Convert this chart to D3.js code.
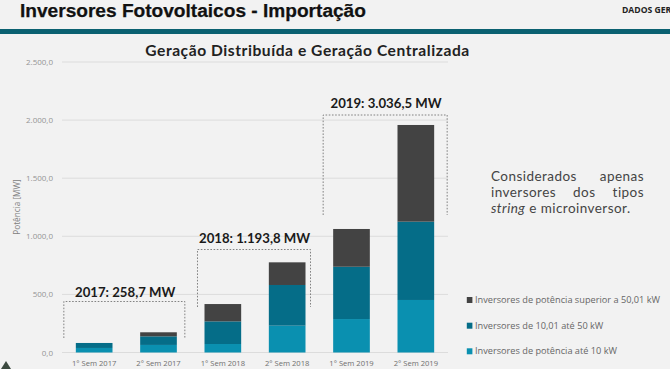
<!DOCTYPE html>
<html><head><meta charset="utf-8">
<script src="https://cdn.jsdelivr.net/npm/d3@7"></script>
<style>html,body{margin:0;padding:0;background:#f2f2f2}svg{display:block}</style>
</head><body><svg id="c" width="670" height="369"></svg>
<script>
const categories=["1° Sem 2017","2° Sem 2017","1° Sem 2018","2° Sem 2018","1° Sem 2019","2° Sem 2019"];
const upTo10=[39,65,73,231,288,452];
const from10to50=[43,74,195,350,450,674];
const above50=[0,35,149,195,325,832];
const tickValues=[0,500,1000,1500,2000,2500];
const legendLabels=["Inversores de potência superior a 50,01 kW","Inversores de 10,01 até 50 kW","Inversores de potência até 10 kW"];
const colors=["#0a90b0","#056d88","#434343"];
const yearLabels=["2017: 258,7 MW","2018: 1.193,8 MW","2019: 3.036,5 MW"];

const svg=d3.select("#c");
const GOTHIC="'Lato','Open Sans',sans-serif", BODY="'Open Sans',sans-serif";
const x=d3.scaleBand().domain(categories).range([62,448]).paddingInner(0.43).paddingOuter(0.215);
const y=d3.scaleLinear().domain([0,2500]).range([352.5,62]);

// header
svg.append("text").attr("x",20).attr("y",16.5).attr("font-family","'Liberation Sans',sans-serif").attr("font-weight",700).attr("font-size",19.1).attr("fill","#111").attr("stroke","#111").attr("stroke-width",0.25).text("Inversores Fotovoltaicos - Importação");
svg.append("text").attr("x",622).attr("y",13).attr("font-family",BODY).attr("font-weight",700).attr("font-size",8.6).attr("fill","#222").text("DADOS GERAIS");
svg.append("rect").attr("x",0).attr("y",29).attr("width",670).attr("height",5).attr("fill","#0b6171");
svg.append("text").attr("x",307.5).attr("y",56).attr("text-anchor","middle").attr("font-family",GOTHIC).attr("font-weight",700).attr("font-size",15.6).attr("letter-spacing",0.55).attr("fill","#222").text("Geração Distribuída e Geração Centralizada");

// axis
const yAxis=d3.axisLeft(y).tickValues(tickValues).tickSize(0).tickPadding(0).tickFormat(d=>d3.format(",.1f")(d).replace(/,/g,"#").replace(".",",").replace(/#/g,"."));
const gy=svg.append("g").attr("transform","translate(53,0)").call(yAxis);
gy.select(".domain").remove();
gy.selectAll("text").attr("font-family",BODY).attr("font-size",8).attr("fill","#949494");
svg.append("g").selectAll("line").data(tickValues).join("line").attr("x1",62).attr("x2",448).attr("y1",d=>y(d)).attr("y2",d=>y(d)).attr("stroke","#dcdcdc").attr("stroke-width",1);
svg.append("text").attr("transform","translate(20,207) rotate(-90)").attr("text-anchor","middle").attr("font-family",BODY).attr("font-size",8.2).attr("fill","#808080").text("Potência [MW]");

const xAxis=d3.axisBottom(x).tickSize(0).tickPadding(0);
const gx=svg.append("g").attr("transform","translate(0,362)").call(xAxis);
gx.select(".domain").remove();
gx.selectAll("text").attr("font-family",BODY).attr("font-size",7.6).attr("fill","#6f6f6f").attr("dy","0.55em");

// bars
const table=categories.map((c,i)=>({c,a:upTo10[i],b:from10to50[i],d:above50[i]}));
const stack=d3.stack().keys(["a","b","d"])(table);
svg.append("g").selectAll("g").data(stack).join("g").attr("fill",(d,i)=>colors[i])
 .selectAll("rect").data(d=>d.map(v=>({v,c:v.data.c}))).join("rect")
 .attr("x",d=>x(d.c)).attr("width",x.bandwidth()).attr("y",d=>y(d.v[1])).attr("height",d=>y(d.v[0])-y(d.v[1]));

// year brackets
const spans=[[0,1,-12,8,301.5,338,75,297],[2,3,-7,5,249.5,307,199,243],[4,5,-10,13,115,215,330.5,108]];
spans.forEach((s,i)=>{
  const x0=x(categories[s[0]])+s[2], x1=x(categories[s[1]])+x.bandwidth()+s[3];
  svg.append("path").attr("d",d3.line()([[x0,s[5]],[x0,s[4]],[x1,s[4]],[x1,s[5]]])).attr("fill","none").attr("stroke","#666").attr("stroke-width",0.8).attr("stroke-dasharray","1.6 1.6");
  svg.append("text").attr("x",s[6]).attr("y",s[7]).attr("font-family",GOTHIC).attr("font-weight",700).attr("font-size",13.2).attr("fill","#1a1a1a").text(yearLabels[i]);
});

// note
const note=svg.append("g").attr("font-family",GOTHIC).attr("font-size",13.5).attr("letter-spacing",0.45).attr("fill","#444");
[["Considerados apenas",180.5],["inversores dos tipos",196.5]].forEach(([t,yy])=>{
  const el=note.append("text").attr("x",491).attr("y",yy).text(t);
  const w=el.node().getComputedTextLength(), gaps=t.split(" ").length-1;
  el.attr("word-spacing",(153-w)/gaps);
});
const l3=note.append("text").attr("x",491).attr("y",212.5);
l3.append("tspan").attr("font-style","italic").text("string");
l3.append("tspan").text(" e microinversor.");

// legend
const ly=[300,325.7,351.3];
const lg=svg.append("g").selectAll("g").data(legendLabels).join("g").attr("transform",(d,i)=>`translate(466.8,${ly[i]})`);
lg.append("rect").attr("x",0).attr("y",-3).attr("width",5.6).attr("height",6).attr("fill",(d,i)=>colors[2-i]);
lg.append("text").attr("x",8.2).attr("y",3).attr("font-family",BODY).attr("font-size",9.2).attr("fill","#666").text(d=>d);

// corner mark
svg.append("path").attr("d",d3.line()([[1,369],[6,361],[11,369]])).attr("fill","#3c4a40");
</script></body></html>
